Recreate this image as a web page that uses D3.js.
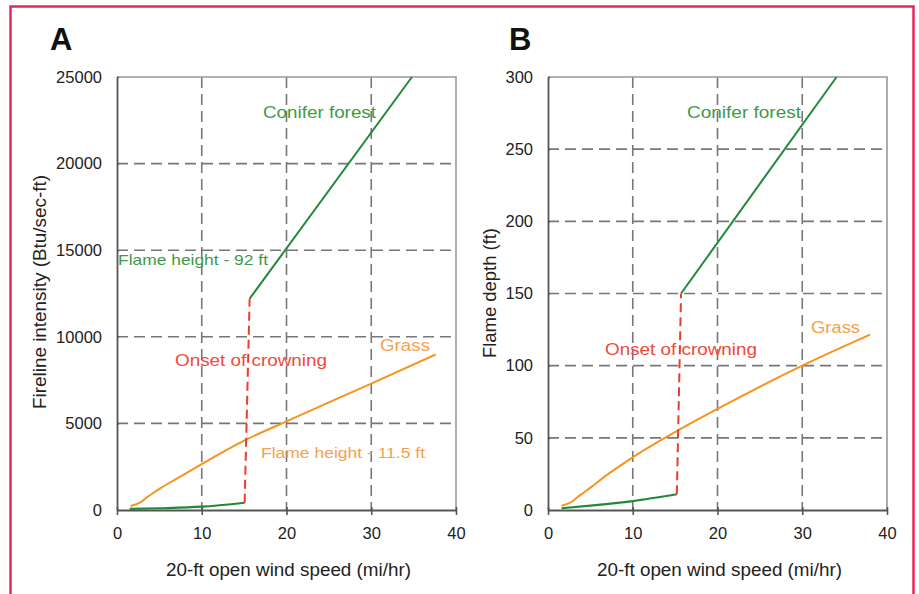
<!DOCTYPE html>
<html>
<head>
<meta charset="utf-8">
<script src="https://cdn.jsdelivr.net/npm/d3@7"></script>
<style>
  body { margin: 0; background: #fff; }
  text { font-family: "Liberation Sans", Arial, sans-serif; }
</style>
</head>
<body>
<script>
// wind speed ticks (shared)
var xTicks = [0, 10, 20, 30, 40];

// Panel A - fireline intensity (Btu/sec-ft)
var aTicks = [0, 5000, 10000, 15000, 20000, 25000];
var aGrass = [[1.6, 230], [2.8, 450], [3.5, 720], [4.3, 990], [5, 1220], [7, 1800], [10, 2650], [15, 4000], [20, 5120], [30, 7300], [37.6, 8980]];
var aConiferLow = [[1.5, 60], [5, 100], [10, 190], [15.06, 420]];
var aOnset = [[15.06, 420], [15.65, 12200]];
var aConiferHigh = [[15.65, 12200], [34.8, 25000]];

// Panel B - flame depth (ft)
var bTicks = [0, 50, 100, 150, 200, 250, 300];
var bGrass = [[1.6, 3], [2.8, 5.7], [3.5, 9], [4.2, 12], [5, 15.5], [7, 24.5], [10, 36.5], [15, 54], [20, 70], [30, 100], [38, 121.5]];
var bConiferLow = [[1.6, 1.2], [5, 3], [10, 6.2], [15.2, 10.9]];
var bOnset = [[15.2, 10.9], [15.7, 150]];
var bConiferHigh = [[15.7, 150], [34.05, 300]];

var width = 919, height = 594;

var svg = d3.select("body").append("svg")
    .attr("width", width)
    .attr("height", height);

// pink frame, open at the bottom
svg.append("path")
    .attr("d", "M10.5,600 L10.5,6.5 L913.5,6.5 L913.5,600")
    .attr("fill", "none")
    .attr("stroke", "#e8265a")
    .attr("stroke-width", 2.5);

var green = "#23893a", greenText = "#3d9a45",
    orange = "#f7931e", orangeText = "#f7a04a",
    red = "#ee3b2b", redText = "#ee4a3a";

function panel(opt) {
    var x = d3.scaleLinear().domain([0, 40]).range([opt.left, opt.right]);
    var y = d3.scaleLinear().domain([0, opt.ymax]).range([opt.bottom, opt.top]);
    var g = svg.append("g");

    // dashed grid
    g.selectAll(".vg").data(xTicks.slice(1, -1)).enter().append("line")
        .attr("x1", d => x(d)).attr("x2", d => x(d))
        .attr("y1", opt.top).attr("y2", opt.bottom)
        .attr("stroke", "#777").attr("stroke-width", 1.6)
        .attr("stroke-dasharray", "11,6");
    g.selectAll(".hg").data(opt.yTicks.slice(1, -1)).enter().append("line")
        .attr("x1", opt.left).attr("x2", opt.right)
        .attr("y1", d => y(d)).attr("y2", d => y(d))
        .attr("stroke", "#777").attr("stroke-width", 1.6)
        .attr("stroke-dasharray", "11,6");

    // plot frame: light top/right
    g.append("path")
        .attr("d", "M" + opt.left + "," + opt.top + " H" + opt.right + " V" + opt.bottom)
        .attr("fill", "none").attr("stroke", "#999").attr("stroke-width", 1.6);

    // axes
    var xAxis = g.append("g")
        .attr("transform", "translate(0," + opt.bottom + ")")
        .call(d3.axisBottom(x).tickValues(xTicks).tickSize(5).tickSizeOuter(0).tickPadding(12));
    var yAxis = g.append("g")
        .attr("transform", "translate(" + opt.left + ",0)")
        .call(d3.axisLeft(y).tickValues(opt.yTicks).tickSize(6).tickSizeOuter(0).tickPadding(9).tickFormat(d3.format("d")));
    [xAxis, yAxis].forEach(function(a) {
        a.select(".domain").attr("stroke", "#555").attr("stroke-width", 1.8);
        a.selectAll(".tick line").attr("stroke", "#555").attr("stroke-width", 1.6);
        a.selectAll(".tick text").attr("fill", "#222").style("font-size", "16.5px");
    });
    xAxis.selectAll(".tick line").attr("y1", -3);
    yAxis.selectAll(".tick line").attr("x2", 2);

    var line = d3.line().x(d => x(d[0])).y(d => y(d[1]));
    var smooth = d3.line().x(d => x(d[0])).y(d => y(d[1])).curve(d3.curveMonotoneX);

    g.append("path").datum(opt.grass).attr("d", smooth)
        .attr("fill", "none").attr("stroke", orange).attr("stroke-width", 2);
    g.append("path").datum(opt.coniferLow).attr("d", smooth)
        .attr("fill", "none").attr("stroke", green).attr("stroke-width", 2.2);
    g.append("path").datum(opt.coniferHigh).attr("d", line)
        .attr("fill", "none").attr("stroke", green).attr("stroke-width", 2);
    g.append("path").datum(opt.onset).attr("d", line)
        .attr("fill", "none").attr("stroke", red).attr("stroke-width", 2)
        .attr("stroke-dasharray", "9,5");

    // panel letter
    svg.append("text").attr("x", opt.letterX).attr("y", 50)
        .style("font-size", "31px").style("font-weight", "bold")
        .attr("fill", "#111").text(opt.letter);

    // axis titles
    svg.append("text")
        .attr("x", (opt.left + opt.right) / 2 + 2).attr("y", 576)
        .attr("text-anchor", "middle").style("font-size", "17.5px").attr("fill", "#222")
        .attr("textLength", 245).attr("lengthAdjust", "spacingAndGlyphs")
        .text("20-ft open wind speed (mi/hr)");
    svg.append("text")
        .attr("transform", "translate(" + opt.titleX + "," + opt.titleY + ") rotate(-90)")
        .attr("text-anchor", "middle").style("font-size", "17.5px").attr("fill", "#222")
        .attr("textLength", opt.titleLen).attr("lengthAdjust", "spacingAndGlyphs")
        .text(opt.yTitle);

    // annotations
    opt.labels.forEach(function(l) {
        svg.append("text").attr("x", l.x).attr("y", l.y)
            .style("font-size", l.size + "px").attr("fill", l.color)
            .attr("textLength", l.len).attr("lengthAdjust", "spacingAndGlyphs")
            .text(l.t);
    });
}

panel({
    left: 117, right: 456, top: 77, bottom: 510, ymax: 25000,
    yTicks: aTicks, grass: aGrass, coniferLow: aConiferLow, onset: aOnset, coniferHigh: aConiferHigh,
    letter: "A", letterX: 50, titleX: 46, titleY: 292, titleLen: 234,
    yTitle: "Fireline intensity (Btu/sec-ft)",
    labels: [
        { t: "Conifer forest", x: 263, y: 118, size: 16, color: greenText, len: 113 },
        { t: "Flame height - 92 ft", x: 118, y: 265, size: 15, color: greenText, len: 150 },
        { t: "Onset of crowning", x: 175, y: 366, size: 16, color: redText, len: 152 },
        { t: "Grass", x: 380, y: 351, size: 16, color: orangeText, len: 50 },
        { t: "Flame height - 11.5 ft", x: 261, y: 458, size: 15, color: orangeText, len: 164 }
    ]
});

panel({
    left: 548, right: 887, top: 77, bottom: 510, ymax: 300,
    yTicks: bTicks, grass: bGrass, coniferLow: bConiferLow, onset: bOnset, coniferHigh: bConiferHigh,
    letter: "B", letterX: 509, titleX: 496, titleY: 293, titleLen: 130,
    yTitle: "Flame depth (ft)",
    labels: [
        { t: "Conifer forest", x: 687, y: 118, size: 16, color: greenText, len: 114 },
        { t: "Onset of crowning", x: 605, y: 355, size: 16, color: redText, len: 152 },
        { t: "Grass", x: 811, y: 333, size: 16, color: orangeText, len: 49 }
    ]
});
</script>
</body>
</html>
